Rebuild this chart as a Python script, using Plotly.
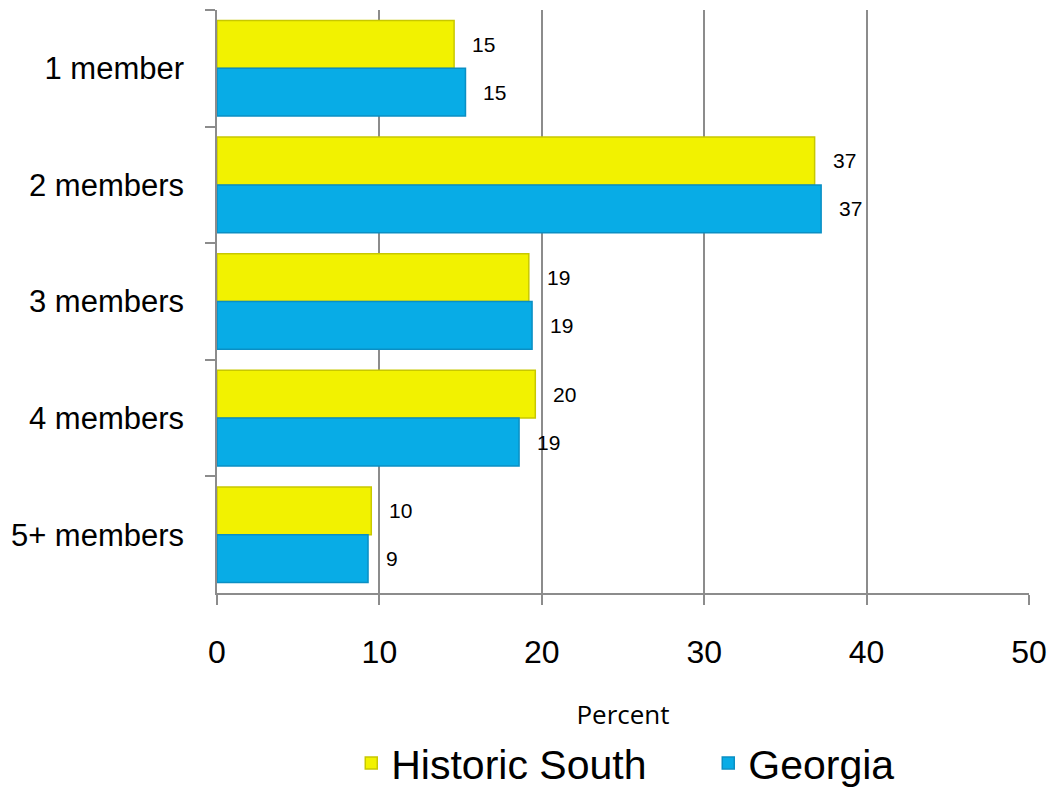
import plotly.graph_objects as go

categories = ["1 member", "2 members", "3 members", "4 members", "5+ members"]
south_values = [14.6, 36.8, 19.2, 19.6, 9.5]
georgia_values = [15.3, 37.2, 19.4, 18.6, 9.3]
south_labels = ["15", "37", "19", "20", "10"]
georgia_labels = ["15", "37", "19", "19", "9"]
x_ticks = [0, 10, 20, 30, 40, 50]

_FONT = "Liberation Sans, Arial, sans-serif"
_GRID = "#8c8c8c"

fig = go.Figure()
fig.add_trace(go.Bar(
    y=categories, x=south_values, orientation="h", name="Historic South",
    marker=dict(color="#f2f200", line=dict(color="#c8c800", width=1.5)),
))
fig.add_trace(go.Bar(
    y=categories, x=georgia_values, orientation="h", name="Georgia",
    marker=dict(color="#08ace6", line=dict(color="#0a8fc4", width=1.5)),
))

# value labels sit a little to the right of each bar end
for vals, labels, shift in ((south_values, south_labels, 24),
                            (georgia_values, georgia_labels, -24)):
    for cat, v, lab in zip(categories, vals, labels):
        fig.add_annotation(x=v, y=cat, text=lab, showarrow=False,
                           xanchor="left", xshift=16, yshift=shift,
                           font=dict(family=_FONT, size=21, color="#000"))

# page body has an 8px margin, so the figure is sized to fit inside it
fig.update_layout(
    width=1039, height=781,
    margin=dict(l=209, r=18, t=2, b=196, autoexpand=False),
    paper_bgcolor="white", plot_bgcolor="white",
    barmode="group", bargap=0.18, bargroupgap=0,
    font=dict(family=_FONT, color="#000"),
    legend=dict(orientation="h", x=0.605, xanchor="center", y=-0.292, yanchor="middle",
                font=dict(family=_FONT, size=41), itemwidth=30, traceorder="normal",
                entrywidth=312),
)
fig.update_xaxes(
    range=[0, 50], tickvals=x_ticks, showgrid=True, gridcolor=_GRID, gridwidth=1.5,
    zeroline=False, showline=True, linecolor=_GRID, linewidth=1.5,
    ticks="outside", ticklen=10, tickcolor=_GRID, tickwidth=1.5,
    tickfont=dict(family=_FONT, size=32), ticklabelstandoff=20,
    title=dict(text="Percent", font=dict(family="Open Sans, sans-serif", size=26), standoff=37),
)
fig.update_yaxes(
    autorange="reversed", showline=True, linecolor=_GRID, linewidth=1.5,
    ticks="outside", ticklen=10, tickcolor=_GRID, tickwidth=1.5, tickson="boundaries",
    tickfont=dict(family=_FONT, size=31), ticklabelstandoff=25, showgrid=False,
)

fig.write_html("out.html")
